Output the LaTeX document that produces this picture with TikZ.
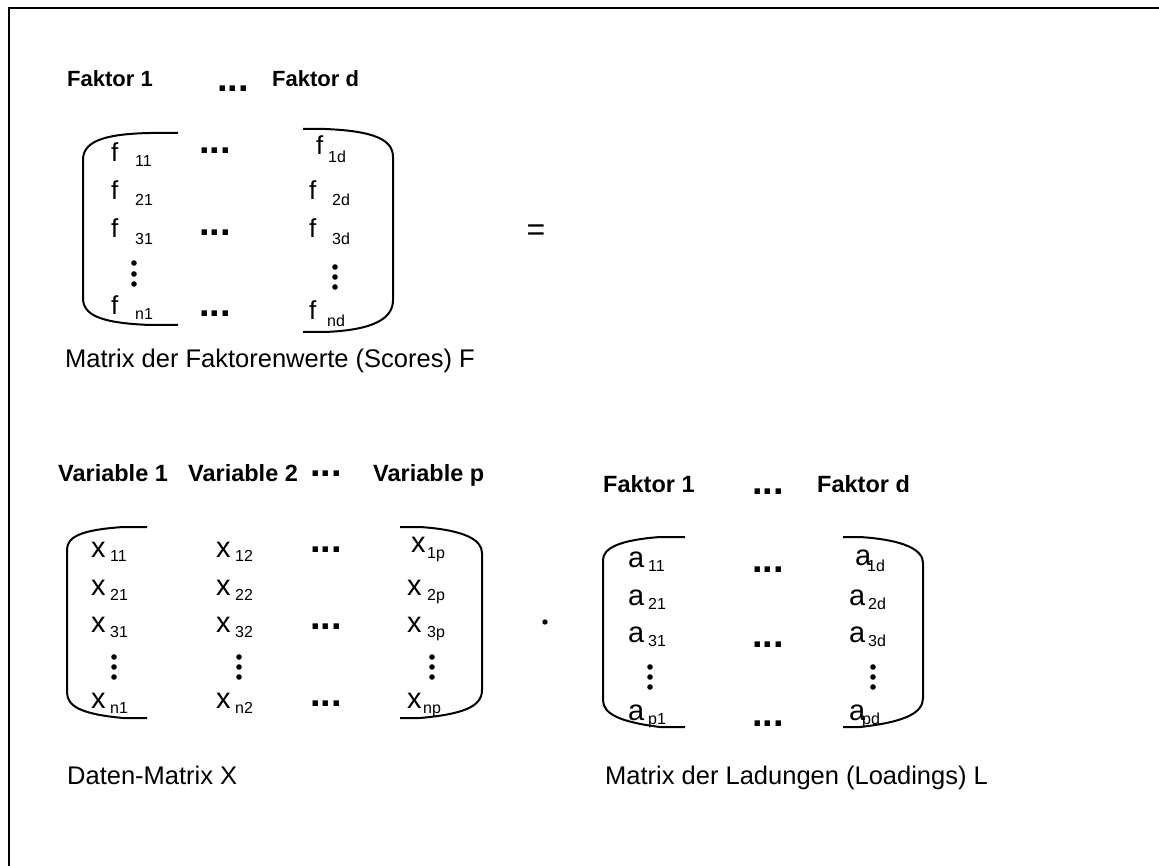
\documentclass[tikz,border=0pt]{standalone}
\usepackage{fontspec}
\setmainfont{Liberation Sans}
\tikzset{
  hdr/.style={font=\fontsize{22}{26}\selectfont\bfseries, anchor=base west, inner sep=0pt},
  hdrbig/.style={font=\fontsize{23.5}{26}\selectfont\bfseries, anchor=base west, inner sep=0pt},
  letf/.style={font=\fontsize{26}{28}\selectfont, anchor=base west, inner sep=0pt},
  letx/.style={font=\fontsize{29}{31}\selectfont, anchor=base west, inner sep=0pt},
  subs/.style={font=\fontsize{16}{18}\selectfont, anchor=base west, inner sep=0pt},
  hdots/.style={font=\fontsize{38}{40}\selectfont\bfseries, anchor=base, inner sep=0pt},
  captxt/.style={font=\fontsize{25.5}{28}\selectfont, anchor=base west, inner sep=0pt},
  brk/.style={line width=2pt},
  frame/.style={line width=2.5pt},
  vdot/.style={fill=black}
}
\newcommand\mentry[8]{%
  \node[#8] (#1l) at (#2,#3) {#4};
  \node[subs] (#1s) at (#5,#6) {#7};}
\newcommand\myvdots[4]{% x, y1, y2, y3
  \fill[vdot] (#1,#2) circle (2.8pt);
  \fill[vdot] (#1,#3) circle (2.8pt);
  \fill[vdot] (#1,#4) circle (2.8pt);}
\begin{document}
\begin{tikzpicture}[x=1pt,y=-1pt]
\useasboundingbox (0,0) rectangle (1159,866);
% frame
\draw[frame] (9,866) -- (9,8) -- (1159,8);

% ---------- Matrix F ----------
\node[hdr] (fh1) at (67,87) {Faktor 1};
\node[hdots] (fhd) at (233,92) {...};
\node[hdr] (fh2) at (272,87) {Faktor d};

\draw[brk] (178,133) -- (150,133) .. controls (100,134) and (83,143) .. (83,160) -- (83,298) .. controls (83,315) and (100,323) .. (150,325) -- (178,325);
\draw[brk] (303,129) -- (325,129) .. controls (375,131) and (393,140) .. (393,157) -- (393,300) .. controls (393,318) and (375,330) .. (325,332) -- (303,332);

\mentry{f11}{111}{162}{f}{135}{167}{11}{letf}
\mentry{f21}{111}{200}{f}{135}{206}{21}{letf}
\mentry{f31}{111}{238}{f}{135}{245}{31}{letf}
\mentry{fn1}{111}{315}{f}{135}{320}{n1}{letf}
\mentry{f1d}{316}{155}{f}{328}{163}{1d}{letf}
\mentry{f2d}{309}{200}{f}{332}{206}{2d}{letf}
\mentry{f3d}{309}{238}{f}{332}{245}{3d}{letf}
\mentry{fnd}{309}{320}{f}{327}{327}{nd}{letf}
\node[hdots] (fd1) at (215,154) {...};
\node[hdots] (fd3) at (215,236) {...};
\node[hdots] (fdn) at (215,317) {...};
\myvdots{134}{263}{274}{284}
\myvdots{335}{267}{277}{287}

\node[font=\fontsize{32}{34}\selectfont, anchor=base, inner sep=0pt] (eq) at (536,241) {=};

\node[captxt] (fcap) at (65,368) {Matrix der Faktorenwerte (Scores) F};

% ---------- Matrix X ----------
\node[hdrbig] (xh1) at (58,481) {Variable 1};
\node[hdrbig] (xh2) at (188,481) {Variable 2};
\node[hdots] (xhd) at (326,476) {...};
\node[hdrbig] (xh3) at (373,481) {Variable p};

\draw[brk] (147,527) -- (123,527) .. controls (80,530) and (67,537) .. (67,550) -- (67,692) .. controls (67,706) and (80,714) .. (123,718) -- (147,718);
\draw[brk] (400,527) -- (420,527) .. controls (465,530) and (482,540) .. (482,553) -- (482,690) .. controls (482,706) and (465,714) .. (420,718) -- (400,718);

\mentry{x11}{91}{557}{x}{110}{561}{11}{letx}
\mentry{x21}{91}{595}{x}{110}{600}{21}{letx}
\mentry{x31}{91}{632}{x}{110}{637}{31}{letx}
\mentry{xn1}{91}{708}{x}{110}{713}{n1}{letx}
\mentry{x12}{216}{557}{x}{235}{561}{12}{letx}
\mentry{x22}{216}{595}{x}{235}{600}{22}{letx}
\mentry{x32}{216}{632}{x}{235}{637}{32}{letx}
\mentry{xn2}{216}{708}{x}{235}{713}{n2}{letx}
\mentry{x1p}{411}{552}{x}{427}{558}{1p}{letx}
\mentry{x2p}{407}{595}{x}{427}{600}{2p}{letx}
\mentry{x3p}{407}{632}{x}{427}{637}{3p}{letx}
\mentry{xnp}{407}{708}{x}{423}{713}{np}{letx}
\node[hdots] (xd1) at (326,552) {...};
\node[hdots] (xd3) at (326,629) {...};
\node[hdots] (xdn) at (326,706) {...};
\myvdots{114}{657}{667}{677}
\myvdots{239}{657}{667}{677}
\myvdots{432}{657}{667}{677}

\fill (545,622) circle (2.7pt);

\node[captxt] (xcap) at (67,784) {Daten-Matrix X};

% ---------- Matrix L ----------
\node[hdrbig] (lh1) at (603,492) {Faktor 1};
\node[hdots] (lhd) at (768,494) {...};
\node[hdrbig] (lh2) at (817,492) {Faktor d};

\draw[brk] (685,537) -- (660,537) .. controls (620,540) and (603,548) .. (603,560) -- (603,700) .. controls (603,714) and (620,722) .. (660,727) -- (685,727);
\draw[brk] (843,537) -- (860,537) .. controls (905,540) and (923,550) .. (923,563) -- (923,698) .. controls (923,713) and (905,722) .. (860,727) -- (843,727);

\mentry{a11}{628}{567}{a}{648}{571}{11}{letx}
\mentry{a21}{628}{605}{a}{648}{609}{21}{letx}
\mentry{a31}{628}{642}{a}{648}{646}{31}{letx}
\mentry{ap1}{628}{720}{a}{648}{724}{p1}{letx}
\mentry{a1d}{855}{565}{a}{867}{571}{1d}{letx}
\mentry{a2d}{849}{605}{a}{868}{609}{2d}{letx}
\mentry{a3d}{849}{642}{a}{868}{646}{3d}{letx}
\mentry{apd}{849}{720}{a}{862}{724}{pd}{letx}
\node[hdots] (ld1) at (768,572) {...};
\node[hdots] (ld3) at (768,647) {...};
\node[hdots] (ldn) at (768,726) {...};
\myvdots{650}{667}{677}{687}
\myvdots{873}{667}{677}{687}

\node[captxt] (lcap) at (605,784) {Matrix der Ladungen (Loadings) L};
\end{tikzpicture}
\end{document}
